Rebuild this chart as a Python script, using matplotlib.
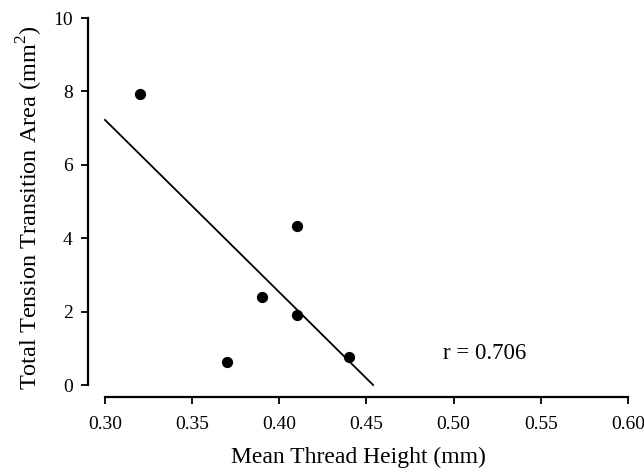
import numpy as np
import matplotlib
matplotlib.use("Agg")
import matplotlib.pyplot as plt

plt.rcParams['font.family'] = ['Liberation Serif', 'DejaVu Serif']
plt.rcParams['mathtext.fontset'] = 'custom'
plt.rcParams['mathtext.rm'] = 'Liberation Serif'

thread_height = [0.32, 0.37, 0.39, 0.41, 0.41, 0.44]
transition_area = [7.92, 0.64, 2.41, 1.92, 4.32, 0.77]
x_ticks = [0.30, 0.35, 0.40, 0.45, 0.50, 0.55, 0.60]
x_tick_labels = ["0.30", "0.35", "0.40", "0.45", "0.50", "0.55", "0.60"]
y_ticks = [0, 2, 4, 6, 8, 10]
r_label = "r = 0.706"

fig = plt.figure(figsize=(6.44, 4.72), dpi=100)
ax = fig.add_axes([88/644, 1-397/472, (628-88)/644, (397-18)/472])

ax.scatter(thread_height, transition_area, s=50, color='black', zorder=3)

slope, intercept = np.polyfit(thread_height, transition_area, 1)
x0 = 0.30
x1 = -intercept / slope
xs = np.array([x0, x1])
ax.plot(xs, slope * xs + intercept, color='black', lw=1.3)

ax.set_xlim(0.30 - 17 * 0.05 / 87.17, 0.60)
ax.set_ylim(-12 / 36.7, 10)
for s in ['top', 'right']:
    ax.spines[s].set_visible(False)
ax.spines['left'].set_bounds(0, 10)
ax.spines['bottom'].set_bounds(0.30, 0.60)
ax.spines['left'].set_linewidth(1.6)
ax.spines['bottom'].set_linewidth(1.6)

ax.set_xticks(x_ticks)
ax.set_xticklabels(x_tick_labels)
ax.set_yticks(y_ticks)
ax.tick_params(axis='both', labelsize=14, width=1.3, length=5, direction='out')
ax.tick_params(axis='x', pad=9)
ax.tick_params(axis='y', pad=6)

ax.set_xlabel("Mean Thread Height (mm)", fontsize=17, labelpad=9.5)
ax.set_ylabel("Total Tension Transition Area (mm$^{2}$)", fontsize=17.5, labelpad=6)

ax.text(0.518, 0.85, r_label, fontsize=16.5, ha='center', va='center')

fig.savefig("out.png", dpi=100)
